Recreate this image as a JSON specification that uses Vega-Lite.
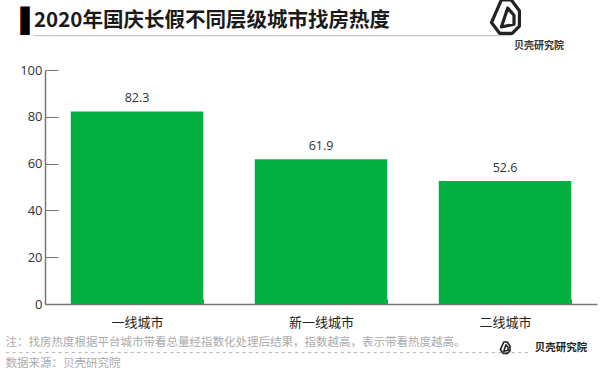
{
  "$schema": "https://vega.github.io/schema/vega-lite/v6.json",
  "width": 552,
  "height": 234,
  "autosize": {"type": "none"},
  "padding": {"left": 45, "top": 70, "right": 3, "bottom": 74},
  "background": "white",
  "title": {
    "text": "2020年国庆长假不同层级城市找房热度",
    "subtitle": "──────────────────────────────────────────────────────────────────",
    "anchor": "start",
    "frame": "group",
    "dx": -11,
    "font": "Noto Sans CJK SC",
    "fontSize": 20.5,
    "fontWeight": "bold",
    "color": "#1a1a1a",
    "subtitleFont": "DejaVu Sans",
    "subtitleFontSize": 12,
    "subtitleLineHeight": 10,
    "subtitleColor": "#c4c4c4",
    "subtitlePadding": 0,
    "offset": -44
  },
  "data": {
    "values": [
      {"city": "一线城市", "value": 82.3},
      {"city": "新一线城市", "value": 61.9},
      {"city": "二线城市", "value": 52.6}
    ]
  },
  "encoding": {
    "x": {
      "field": "city",
      "type": "nominal",
      "sort": null,
      "scale": {"paddingInner": 0.28, "paddingOuter": 0.14},
      "axis": {
        "labelAngle": 0,
        "labelFont": "Noto Sans CJK SC",
        "labelFontSize": 13,
        "labelColor": "#222222",
        "labelPadding": 17,
        "tickBand": "extent",
        "tickSize": -5,
        "tickColor": "#777777",
        "domainColor": "#777777",
        "domainWidth": 1.5,
        "title": [
          "注：找房热度根据平台城市带看总量经指数化处理后结果，指数越高，表示带看热度越高。",
          "- - - - - - - - - - - - - - - - - - - - - - - - - - - - - - - - - - - - - - - - - - - - - - - - - - - - - - - - - - - - - - - - - - - - - - - - - - - - - - - -",
          "数据来源：贝壳研究院"
        ],
        "titleFont": "Noto Sans CJK SC",
        "titleFontSize": 11.5,
        "titleFontWeight": "normal",
        "titleColor": "#aaaaaa",
        "titleAnchor": "start",
        "titleAlign": "left",
        "titleBaseline": "top",
        "titleX": -40,
        "titleY": 32,
        "titleLineHeight": 10.8
      }
    },
    "y": {
      "field": "value",
      "type": "quantitative",
      "scale": {"domain": [0, 100]},
      "axis": {
        "values": [0, 20, 40, 60, 80, 100],
        "grid": false,
        "title": "▌",
        "titleFont": "DejaVu Sans",
        "titleFontSize": 24,
        "titleFontWeight": "normal",
        "titleColor": "#000000",
        "titleAngle": 0,
        "titleAlign": "left",
        "titleBaseline": "top",
        "titleX": -25,
        "titleY": -61,
        "labelFont": "Open Sans",
        "labelFontSize": 13,
        "labelColor": "#333333",
        "labelPadding": 16,
        "tickSize": -13,
        "tickColor": "#777777",
        "domainColor": "#777777",
        "domainWidth": 1.5
      }
    }
  },
  "layer": [
    {"mark": {"type": "bar", "color": "#03b143"}},
    {
      "mark": {"type": "text", "font": "Open Sans", "fontSize": 12.5, "color": "#333333", "baseline": "alphabetic", "dy": -9},
      "encoding": {"text": {"field": "value", "type": "quantitative", "format": ".1f"}}
    },
    {
      "transform": [{"filter": "datum.city === '二线城市'"}],
      "mark": {"type": "text", "text": "贝壳研究院", "font": "Noto Sans CJK SC", "fontSize": 10, "color": "#333333", "fontWeight": "bold", "dx": 34, "clip": false},
      "encoding": {
        "y": {"datum": 110.2, "type": "quantitative"}
      }
    },
    {
      "transform": [{"filter": "datum.city === '二线城市'"}],
      "mark": {"type": "text", "text": "贝壳研究院", "font": "Noto Sans CJK SC", "fontSize": 10.5, "color": "#222222", "fontWeight": "bold", "dx": 56, "clip": false},
      "encoding": {
        "y": {"datum": -18.8, "type": "quantitative"}
      }
    },
    {
      "transform": [{"filter": "datum.city === '二线城市'"}],
      "mark": {
        "type": "point",
        "shape": "M -0.3 0.95 L -0.75 0.35 L -0.2 -0.9 L 0.35 -0.9 L 0.8 -0.3 L 0.8 0.55 L 0.4 0.95 Z M -0.2 0.6 L 0.15 -0.45 L 0.5 -0.05 L 0.5 0.45 Z",
        "filled": false,
        "stroke": "#222222",
        "strokeWidth": 3.2,
        "strokeJoin": "round",
        "opacity": 1,
        "size": 1300,
        "dx": 35,
        "clip": false
      },
      "encoding": {
        "y": {"datum": 123, "type": "quantitative"}
      }
    },
    {
      "transform": [{"filter": "datum.city === '二线城市'"}],
      "mark": {
        "type": "point",
        "shape": "M -0.3 0.95 L -0.75 0.35 L -0.2 -0.9 L 0.35 -0.9 L 0.8 -0.3 L 0.8 0.55 L 0.4 0.95 Z M -0.2 0.6 L 0.15 -0.45 L 0.5 -0.05 L 0.5 0.45 Z",
        "filled": false,
        "stroke": "#222222",
        "strokeWidth": 1.6,
        "strokeJoin": "round",
        "opacity": 1,
        "size": 150,
        "dx": 19,
        "clip": false
      },
      "encoding": {
        "y": {"datum": -18.6, "type": "quantitative"}
      }
    }
  ],
  "config": {"view": {"stroke": null}}
}
